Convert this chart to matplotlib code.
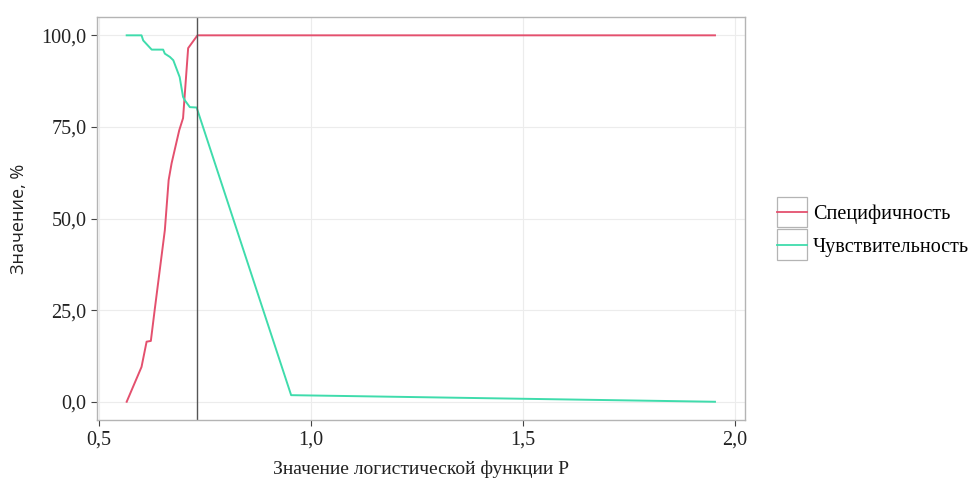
import matplotlib.pyplot as plt
from matplotlib.legend_handler import HandlerLine2D
from matplotlib.patches import Rectangle
from matplotlib.lines import Line2D
from matplotlib.ticker import FuncFormatter

# specificity curve
spec_p = [0.565, 0.600, 0.612, 0.622, 0.631, 0.655, 0.664, 0.671, 0.689, 0.698, 0.710, 0.732, 1.953]
spec_v = [0.0, 9.5, 16.4, 16.6, 25.0, 46.8, 60.5, 65.1, 74.1, 77.4, 96.5, 100.0, 100.0]

# sensitivity curve
sens_p = [0.565, 0.600, 0.604, 0.624, 0.624, 0.651, 0.655, 0.667, 0.675, 0.690, 0.698, 0.702, 0.714, 0.730, 0.953, 1.953]
sens_v = [100.0, 100.0, 98.6, 96.1, 96.1, 96.1, 95.0, 94.1, 93.2, 88.6, 83.2, 82.3, 80.4, 80.3, 1.8, 0.0]

cutoff = 0.732

x_ticks = [0.5, 1.0, 1.5, 2.0]
y_ticks = [0, 25, 50, 75, 100]

red = '#e4506e'
green = '#3fdcac'
edge = '#b4b4b4'


class BoxedLine(HandlerLine2D):
    # legend key with a small grey box around the line
    def create_artists(self, legend, orig, xd, yd, width, height, fontsize, trans):
        box = Rectangle((xd, -yd - 6), width, height + 12, facecolor='white',
                        edgecolor=edge, lw=0.9, transform=trans)
        ln = Line2D([xd, xd + width], [height / 2 - yd] * 2, color=orig.get_color(),
                    lw=1.3, transform=trans)
        return [box, ln]


fig = plt.figure(figsize=(9.76, 4.79), dpi=100)
ax = fig.add_axes([0.0994, 0.123, 0.664, 0.8415])

ax.plot(spec_p, spec_v, color=red, lw=1.4, label='Специфичность')
ax.plot(sens_p, sens_v, color=green, lw=1.4, label='Чувствительность')
ax.axvline(cutoff, color='#555555', lw=1.0)

ax.set_xlim(0.495, 2.024)
ax.set_ylim(-5, 105)
ax.set_xticks(x_ticks)
ax.set_yticks(y_ticks)
fmt = FuncFormatter(lambda v, pos: f'{v:.1f}'.replace('.', ','))
ax.xaxis.set_major_formatter(fmt)
ax.yaxis.set_major_formatter(fmt)
ax.grid(True, color='#ececec', lw=0.8)
ax.set_axisbelow(True)
for s in ax.spines.values():
    s.set_color(edge)
    s.set_linewidth(1.0)
ax.tick_params(colors='#444444', length=4, width=0.8, labelsize=14.5, labelcolor='#222222')
for lab in ax.get_xticklabels() + ax.get_yticklabels():
    lab.set_fontfamily('Liberation Serif')

ax.set_xlabel('Значение логистической функции P', family='Liberation Serif',
              fontsize=14, color='#222222', labelpad=8)
ax.set_ylabel('Значение, %', family='Open Sans', fontsize=13, color='#222222', labelpad=10)

ax.legend(loc='center left', bbox_to_anchor=(1.022, 0.47), frameon=False,
          prop={'family': 'Liberation Serif', 'size': 14.5}, handlelength=1.45,
          handletextpad=0.3, labelspacing=0.68,
          handler_map={Line2D: BoxedLine()})

fig.savefig('out.png', dpi=100)
